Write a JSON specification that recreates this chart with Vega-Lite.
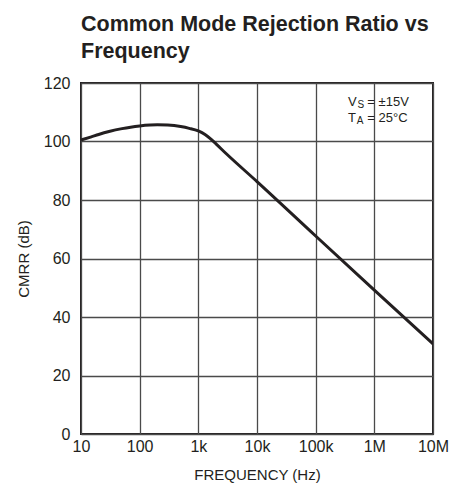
{
  "$schema": "https://vega.github.io/schema/vega-lite/v6.json",
  "width": 352,
  "height": 351,
  "autosize": {"type": "none"},
  "padding": {"left": 81, "top": 83, "right": 16, "bottom": 55},
  "background": "white",
  "title": {
    "text": ["Common Mode Rejection Ratio vs", "Frequency"],
    "anchor": "start",
    "frame": "group",
    "font": "Liberation Sans",
    "fontSize": 21.5,
    "fontWeight": "bold",
    "color": "#231f20",
    "lineHeight": 27,
    "offset": 13
  },
  "config": {
    "view": {"stroke": "#231f20", "strokeWidth": 2},
    "axis": {
      "labelFont": "Liberation Sans",
      "titleFont": "Liberation Sans",
      "labelFontSize": 16,
      "titleFontSize": 15,
      "titleFontWeight": "normal",
      "labelColor": "#231f20",
      "titleColor": "#231f20",
      "domain": false,
      "ticks": false,
      "tickSize": 0,
      "gridColor": "#4a4a4a",
      "gridWidth": 1.3,
      "gridOpacity": 1
    }
  },
  "datasets": {
    "curve": [
      {"f": 10, "cmrr": 100.5},
      {"f": 15, "cmrr": 101.6},
      {"f": 20, "cmrr": 102.4},
      {"f": 30, "cmrr": 103.4},
      {"f": 50, "cmrr": 104.4},
      {"f": 70, "cmrr": 104.9},
      {"f": 100, "cmrr": 105.3},
      {"f": 150, "cmrr": 105.6},
      {"f": 200, "cmrr": 105.7},
      {"f": 300, "cmrr": 105.6},
      {"f": 500, "cmrr": 105.1},
      {"f": 700, "cmrr": 104.5},
      {"f": 1000, "cmrr": 103.6},
      {"f": 1300, "cmrr": 102.4},
      {"f": 1600, "cmrr": 101.0},
      {"f": 2000, "cmrr": 99.2},
      {"f": 3000, "cmrr": 95.8},
      {"f": 10000, "cmrr": 86.3},
      {"f": 100000, "cmrr": 67.7},
      {"f": 1000000, "cmrr": 49.2},
      {"f": 10000000, "cmrr": 30.8}
    ],
    "mainText": [
      {"f": 355000, "cmrr": 112.0, "t": "V"},
      {"f": 760000, "cmrr": 112.0, "t": "= ±15V"},
      {"f": 355000, "cmrr": 106.8, "t": "T"},
      {"f": 760000, "cmrr": 106.8, "t": "= 25°C"}
    ],
    "subText": [
      {"f": 516000, "cmrr": 111.3, "t": "S"},
      {"f": 500000, "cmrr": 106.1, "t": "A"}
    ]
  },
  "layer": [
    {
      "data": {"name": "curve"},
      "mark": {"type": "line", "color": "#231f20", "strokeWidth": 3, "interpolate": "monotone", "clip": true},
      "encoding": {
        "x": {
          "field": "f",
          "type": "quantitative",
          "scale": {"type": "log", "domain": [10, 10000000], "nice": false},
          "axis": {
            "title": "FREQUENCY (Hz)",
            "values": [10, 100, 1000, 10000, 100000, 1000000, 10000000],
            "labelExpr": "datum.value >= 1000000 ? format(datum.value/1000000, 'd') + 'M' : datum.value >= 1000 ? format(datum.value/1000, 'd') + 'k' : format(datum.value, 'd')",
            "labelPadding": 4,
            "labelFlush": false,
            "labelOverlap": false,
            "titlePadding": 13
          }
        },
        "y": {
          "field": "cmrr",
          "type": "quantitative",
          "scale": {"domain": [0, 120], "nice": false},
          "axis": {
            "title": "CMRR (dB)",
            "values": [0, 20, 40, 60, 80, 100, 120],
            "labelPadding": 11,
            "labelFlush": false,
            "labelOverlap": false,
            "titlePadding": 12
          }
        }
      }
    },
    {
      "data": {"name": "mainText"},
      "mark": {"type": "text", "align": "left", "baseline": "alphabetic", "font": "Liberation Sans", "fontSize": 13, "color": "#231f20"},
      "encoding": {
        "x": {"field": "f", "type": "quantitative"},
        "y": {"field": "cmrr", "type": "quantitative"},
        "text": {"field": "t"}
      }
    },
    {
      "data": {"name": "subText"},
      "mark": {"type": "text", "align": "left", "baseline": "alphabetic", "font": "Liberation Sans", "fontSize": 10, "color": "#231f20"},
      "encoding": {
        "x": {"field": "f", "type": "quantitative"},
        "y": {"field": "cmrr", "type": "quantitative"},
        "text": {"field": "t"}
      }
    }
  ]
}
